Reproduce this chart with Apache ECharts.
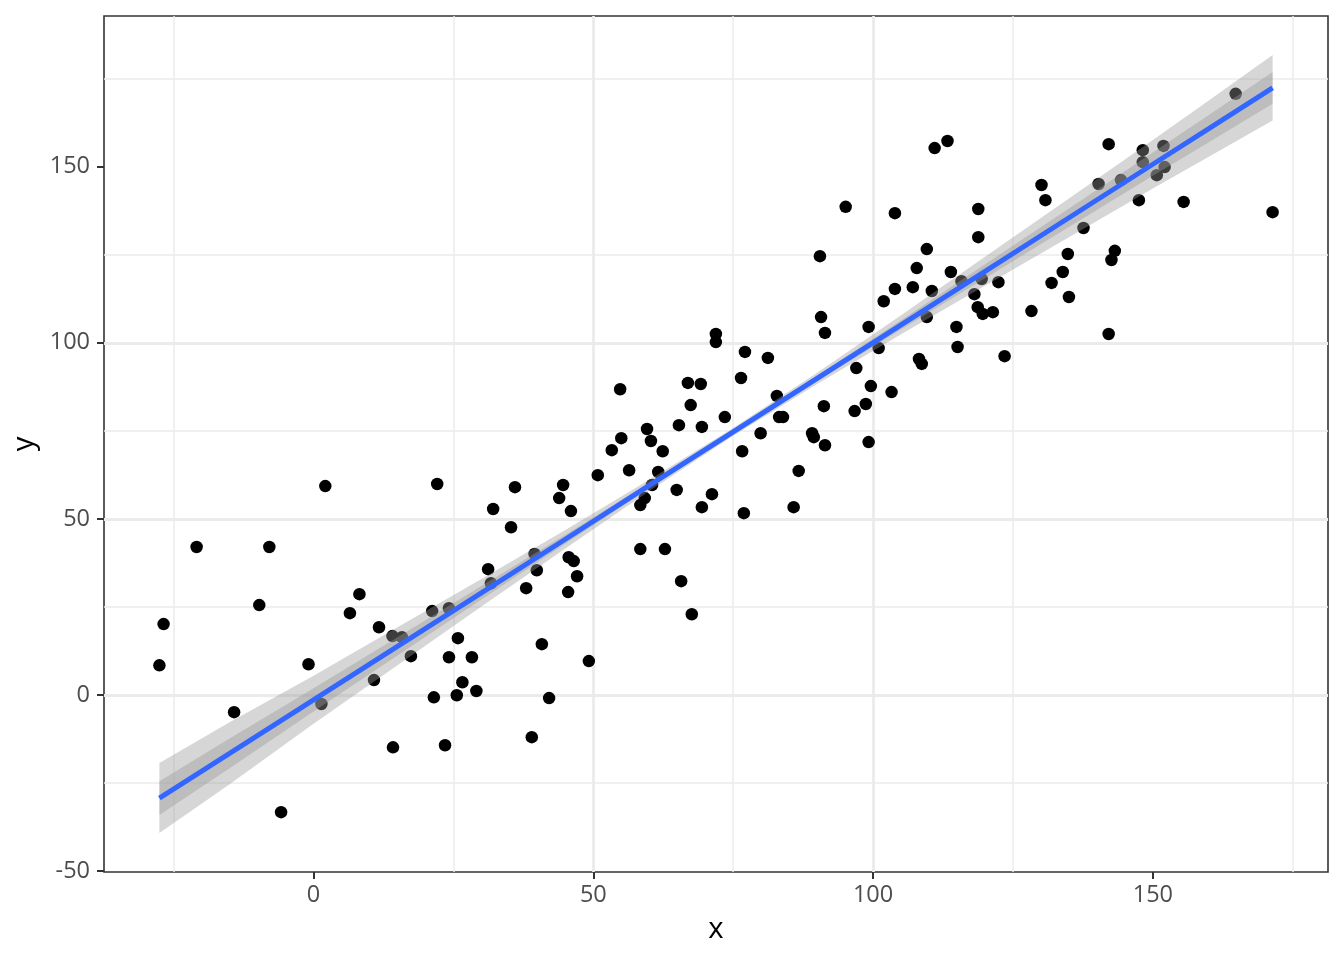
<!DOCTYPE html>
<html>
<head>
<meta charset="utf-8">
<script src="https://cdn.jsdelivr.net/npm/echarts@6/dist/echarts.min.js"></script>
<style>
  html, body { margin: 0; padding: 0; background: #fff; }
  #main { width: 1344px; height: 960px; }
</style>
</head>
<body>
<div id="main"></div>
<script>
// scatter points
var pointX = [-27.55, -26.8, -20.9, -14.2, -9.7, -7.9, -5.8, -0.9, 1.4, 2.1,
  6.5, 8.2, 10.8, 11.7, 14.1, 14.2, 15.8, 17.4, 21.2, 21.5,
  22.1, 23.5, 24.2, 24.2, 25.6, 25.8, 26.6, 28.3, 29.1, 31.2,
  31.7, 32.1, 35.3, 36.0, 38.0, 39.0, 39.5, 39.9, 40.8, 42.1,
  43.9, 44.6, 45.5, 45.6, 46.0, 46.5, 47.1, 49.2, 50.8, 53.3,
  54.8, 55.0, 56.4, 58.4, 58.4, 59.2, 59.6, 60.3, 60.5, 61.6,
  62.4, 62.8, 64.9, 65.3, 65.7, 66.9, 67.4, 67.6, 69.2, 69.4,
  69.4, 71.2, 71.9, 71.9, 73.5, 76.4, 76.6, 76.9, 77.1, 79.9,
  81.2, 82.8, 83.2, 83.9, 85.8, 86.7, 89.1, 89.4, 90.5, 90.7,
  91.2, 91.4, 91.4, 95.1, 96.7, 97.0, 98.7, 99.2, 99.2, 99.6,
  101.0, 101.9, 103.3, 103.9, 103.9, 107.1, 107.8, 108.2, 108.7, 109.6,
  109.6, 110.5, 111.0, 113.3, 113.9, 114.9, 115.1, 115.8, 118.1, 118.8,
  118.8, 118.7, 119.4, 119.6, 121.4, 122.4, 123.5, 128.3, 130.1, 130.8,
  131.9, 133.9, 134.8, 135.0, 137.6, 140.3, 142.1, 142.1, 142.6, 143.2,
  144.3, 147.5, 148.2, 148.2, 150.7, 151.9, 152.1, 155.5, 164.8, 171.4];
var pointY = [8.4, 20.1, 42.0, -4.9, 25.5, 42.0, -33.3, 8.7, -2.6, 59.3,
  23.2, 28.6, 4.2, 19.2, 16.7, -14.9, 16.4, 11.0, 23.8, -0.7,
  59.9, -14.3, 24.6, 10.7, -0.1, 16.1, 3.6, 10.7, 1.1, 35.7,
  31.7, 52.8, 47.6, 59.0, 30.3, -12.0, 40.0, 35.4, 14.4, -0.9,
  55.9, 59.6, 29.2, 39.1, 52.2, 38.0, 33.7, 9.6, 62.4, 69.5,
  86.8, 72.9, 63.8, 53.9, 41.4, 55.9, 75.5, 72.1, 59.6, 63.3,
  69.2, 41.4, 58.2, 76.6, 32.3, 88.6, 82.3, 22.9, 88.3, 76.1,
  53.3, 57.0, 102.5, 100.2, 78.9, 90.0, 69.2, 51.6, 97.4, 74.3,
  95.7, 84.9, 78.9, 78.9, 53.3, 63.6, 74.3, 73.2, 124.6, 107.3,
  82.0, 102.8, 70.9, 138.6, 80.6, 92.8, 82.6, 104.5, 71.8, 87.7,
  98.5, 111.8, 86.0, 136.8, 115.3, 115.8, 121.2, 95.4, 94.0, 126.6,
  107.3, 114.7, 155.3, 157.3, 120.1, 104.5, 98.8, 117.5, 113.8, 138.0,
  130.0, 110.1, 118.1, 108.2, 108.7, 117.2, 96.2, 109.0, 144.8, 140.5,
  117.0, 120.1, 125.2, 113.0, 132.6, 145.1, 156.4, 102.5, 123.5, 126.1,
  146.2, 140.5, 154.7, 151.3, 147.6, 155.9, 149.9, 140.0, 170.7, 137.1];

// fitted line and band half-widths, read at these x positions
var fitX = [-27.55, -15, 0, 15, 30, 45, 60, 75, 90, 105, 120, 135, 150, 160, 171.4];
var fitY = [-29.3, -16.6, -1.4, 13.8, 29.0, 44.2, 59.5, 74.7, 89.9, 105.1, 120.3, 135.5, 150.7, 160.8, 172.4];
var outerHalf = [9.95, 8.8, 6.8, 5.4, 3.9, 2.6, 1.6, 1.1, 1.6, 2.7, 4.1, 5.5, 6.9, 8.0, 9.3];
var innerHalf = [4.8, 4.2, 3.3, 2.6, 1.9, 1.25, 0.8, 0.55, 0.8, 1.3, 2.0, 2.65, 3.3, 3.85, 4.5];

var xTicks = [0, 50, 100, 150];
var yTicks = [-50, 0, 50, 100, 150];

var chart = echarts.init(document.getElementById('main'));

function bandSeries(half) {
  return {
    type: 'custom',
    silent: true,
    z: 3,
    data: fitX.map(function (x, i) { return [x, fitY[i] - half[i], fitY[i] + half[i]]; }),
    encode: { x: 0, y: [1, 2] },
    renderItem: function (params, api) {
      if (params.dataIndex !== 0) return null;
      var upper = [], lower = [];
      for (var i = 0; i < fitX.length; i++) {
        upper.push(api.coord([fitX[i], fitY[i] + half[i]]));
        lower.unshift(api.coord([fitX[i], fitY[i] - half[i]]));
      }
      return {
        type: 'polygon',
        shape: { points: upper.concat(lower) },
        style: { fill: 'rgba(153,153,153,0.4)' }
      };
    }
  };
}

var labelFont = 'Open Sans';
var gridColor = '#ebebeb';

chart.setOption({
  animation: false,
  backgroundColor: '#fff',
  grid: {
    left: 104, right: 16, top: 16, bottom: 88,
    show: true,
    borderColor: '#333',
    borderWidth: 1.6,
    backgroundColor: 'transparent'
  },
  xAxis: {
    type: 'value',
    min: -37.45, max: 181.3,
    splitNumber: 5,
    name: 'x',
    nameLocation: 'middle',
    nameGap: 43,
    nameTextStyle: { color: '#000', fontSize: 29.3, fontFamily: labelFont },
    axisLine: { show: false, onZero: false },
    axisTick: { show: true, customValues: xTicks, length: 7, lineStyle: { color: '#333', width: 2 } },
    axisLabel: { customValues: xTicks, margin: 11, color: '#4d4d4d', fontSize: 23.5, fontFamily: labelFont },
    splitLine: { show: true, showMinLine: false, showMaxLine: false, lineStyle: { color: gridColor, width: 2.8 } },
    minorTick: { show: false, splitNumber: 2 },
    minorSplitLine: { show: true, lineStyle: { color: gridColor, width: 1.5 } }
  },
  yAxis: {
    type: 'value',
    min: -50.3, max: 192.8,
    splitNumber: 5,
    name: 'y',
    nameLocation: 'middle',
    nameGap: 55,
    nameTextStyle: { color: '#000', fontSize: 29.3, fontFamily: labelFont },
    axisLine: { show: false, onZero: false },
    axisTick: { show: true, customValues: yTicks, length: 7, lineStyle: { color: '#333', width: 2 } },
    axisLabel: { customValues: yTicks, margin: 14, color: '#4d4d4d', fontSize: 23.5, fontFamily: labelFont },
    splitLine: { show: true, showMinLine: false, showMaxLine: false, lineStyle: { color: gridColor, width: 2.8 } },
    minorTick: { show: false, splitNumber: 2 },
    minorSplitLine: { show: true, lineStyle: { color: gridColor, width: 1.5 } }
  },
  series: [
    {
      type: 'scatter',
      z: 2,
      symbol: 'circle',
      symbolSize: 12.5,
      itemStyle: { color: '#000', opacity: 1 },
      emphasis: { disabled: true },
      data: pointX.map(function (x, i) { return [x, pointY[i]]; })
    },
    bandSeries(outerHalf),
    bandSeries(innerHalf),
    {
      type: 'line',
      z: 4,
      showSymbol: false,
      silent: true,
      lineStyle: { color: '#3366FF', width: 5 },
      data: fitX.map(function (x, i) { return [x, fitY[i]]; })
    }
  ]
});
</script>
</body>
</html>
